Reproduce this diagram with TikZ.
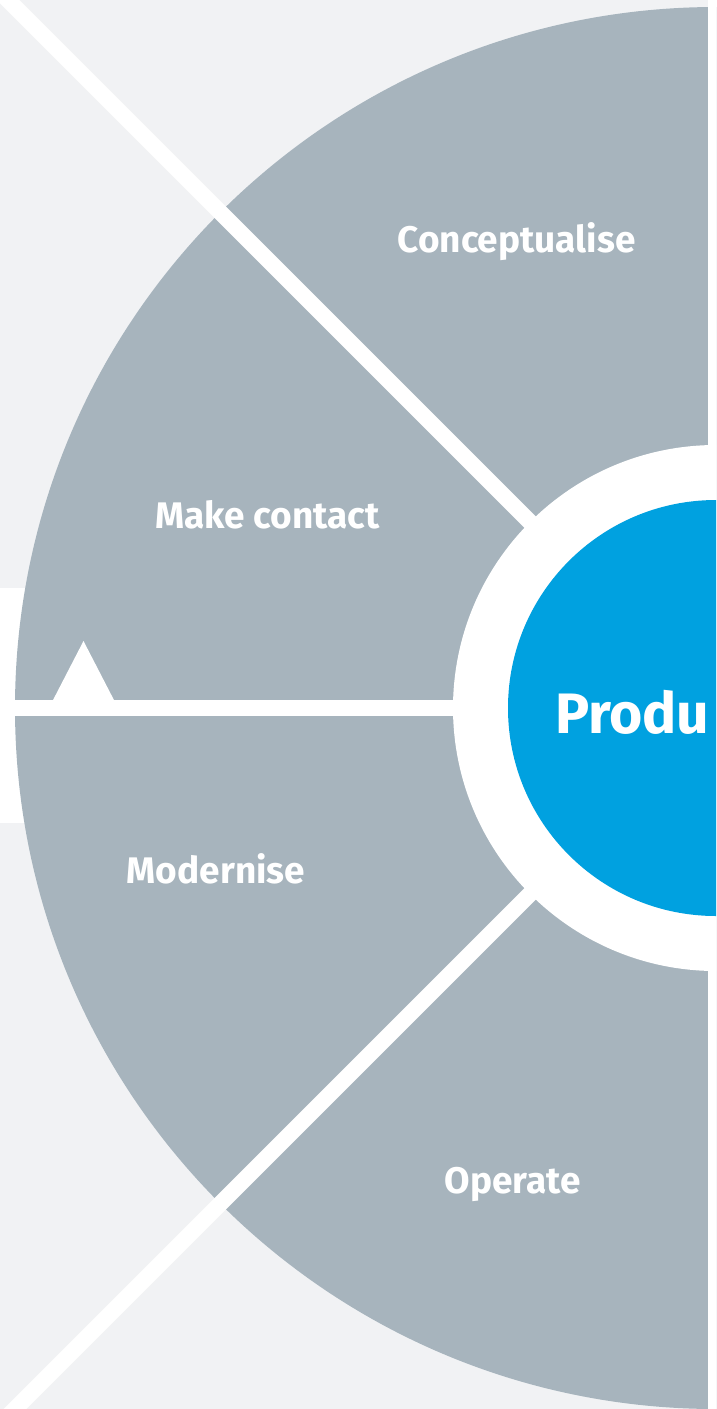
\documentclass[tikz,border=0pt]{standalone}
\usepackage{fontspec}
\setmainfont{Fira Sans}
\definecolor{bgc}{HTML}{F1F2F4}
\definecolor{sector}{HTML}{A7B4BD}
\definecolor{core}{HTML}{00A1E0}
\tikzset{
  sep/.style={draw=white, line width=16pt},
  lbl/.style={text=white, font=\fontsize{37}{41}\selectfont\bfseries, inner sep=0pt, anchor=base},
  big/.style={text=white, font=\fontsize{57}{61}\selectfont\bfseries, inner sep=0pt, anchor=base west}
}
\begin{document}
\begin{tikzpicture}[x=1pt, y=-1pt]
\useasboundingbox (0,0) rectangle (716,1409);
\clip (0,0) rectangle (716,1409);
% background
\fill[bgc] (0,0) rectangle (716,1409);
\fill[white] (0,588) rectangle (716,823);
% big disc
\coordinate (c) at (716,708);
\fill[sector] (c) circle[radius=701pt];
% separators
\coordinate (tl) at (-12,-20);
\coordinate (bl) at (-12,1436);
\coordinate (lft) at (0,708);
\coordinate (top) at (716,-10);
\coordinate (bot) at (716,1420);
\draw[sep] (c) -- (tl);
\draw[sep] (c) -- (bl);
\draw[sep] (c) -- (lft);
\draw[sep] (top) -- (bot);
% triangle marker
\fill[white] (52,702) -- (83.5,641) -- (115,702) -- cycle;
% ring and core
\fill[white] (c) circle[radius=263pt];
\fill[core] (c) circle[radius=208pt];
% labels
\node[lbl] (concept) at (516.5,252) {Conceptualise};
\node[lbl] (contact) at (267.5,528) {Make contact};
\node[lbl] (modern) at (216,883) {Modernise};
\node[lbl] (operate) at (512.5,1193) {Operate};
\node[big] (prod) at (555,733) {Produ};
\end{tikzpicture}
\end{document}
